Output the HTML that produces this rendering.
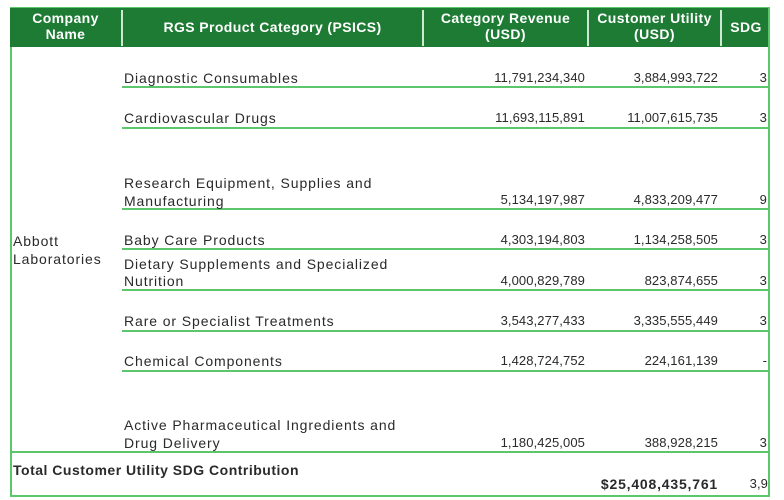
<!DOCTYPE html>
<html><head><meta charset="utf-8"><style>
body{margin:0;width:784px;height:500px;background:#fff;position:relative;overflow:hidden;font-family:"Liberation Sans",sans-serif;color:#2a2a2a;}
.a{position:absolute;white-space:nowrap;font-size:14px;line-height:18px;letter-spacing:0.9px;}
.r{text-align:right;font-size:13px;letter-spacing:0.1px;}
.h{position:absolute;color:#fff;font-weight:bold;font-size:14px;line-height:16px;text-align:center;letter-spacing:0.4px;}
.ln{position:absolute;height:2px;background:#5cc66c;}
.vd{position:absolute;width:2px;background:#cfe8d2;top:10px;height:36px;}
</style></head><body>
<div style="position:absolute;left:10px;top:7px;width:760px;height:40px;background:#1e7b34;"></div>
<div class="vd" style="left:121px"></div>
<div class="vd" style="left:422px"></div>
<div class="vd" style="left:587px"></div>
<div class="vd" style="left:720px"></div>
<div class="h" style="left:10px;width:111px;top:10px">Company<br>Name</div>
<div class="h" style="left:123px;width:299px;top:19px">RGS Product Category (PSICS)</div>
<div class="h" style="left:424px;width:163px;top:10px">Category Revenue<br>(USD)</div>
<div class="h" style="left:589px;width:131px;top:10px">Customer Utility<br>(USD)</div>
<div class="h" style="left:722px;width:48px;top:19px">SDG</div>
<div style="position:absolute;left:10px;top:47px;width:2px;height:450px;background:#5cc66c"></div>
<div style="position:absolute;left:768px;top:7px;width:2px;height:490px;background:#5cc66c"></div>
<div class="ln" style="left:10px;top:7px;width:760px;height:1px"></div>
<div class="ln" style="left:122px;top:86px;width:648px"></div>
<div class="ln" style="left:122px;top:127px;width:648px"></div>
<div class="ln" style="left:122px;top:208px;width:648px"></div>
<div class="ln" style="left:122px;top:248px;width:648px"></div>
<div class="ln" style="left:122px;top:289px;width:648px"></div>
<div class="ln" style="left:122px;top:330px;width:648px"></div>
<div class="ln" style="left:122px;top:370px;width:648px"></div>
<div class="ln" style="left:10px;top:451px;width:760px"></div>
<div class="ln" style="left:10px;top:495px;width:760px"></div>

<div class="a" style="left:13px;top:232px">Abbott</div>
<div class="a" style="left:13px;top:250px">Laboratories</div>

<div class="a" style="left:124px;top:69px">Diagnostic Consumables</div>
<div class="a" style="left:124px;top:109px">Cardiovascular Drugs</div>
<div class="a" style="left:124px;top:174px">Research Equipment, Supplies and</div>
<div class="a" style="left:124px;top:192px">Manufacturing</div>
<div class="a" style="left:124px;top:231px">Baby Care Products</div>
<div class="a" style="left:124px;top:255px">Dietary Supplements and Specialized</div>
<div class="a" style="left:124px;top:272px">Nutrition</div>
<div class="a" style="left:124px;top:312px">Rare or Specialist Treatments</div>
<div class="a" style="left:124px;top:352px">Chemical Components</div>
<div class="a" style="left:124px;top:416px">Active Pharmaceutical Ingredients and</div>
<div class="a" style="left:124px;top:434px">Drug Delivery</div>

<div class="a r" style="right:199px;top:69px">11,791,234,340</div>
<div class="a r" style="right:199px;top:109px">11,693,115,891</div>
<div class="a r" style="right:199px;top:191px">5,134,197,987</div>
<div class="a r" style="right:199px;top:231px">4,303,194,803</div>
<div class="a r" style="right:199px;top:272px">4,000,829,789</div>
<div class="a r" style="right:199px;top:312px">3,543,277,433</div>
<div class="a r" style="right:199px;top:352px">1,428,724,752</div>
<div class="a r" style="right:199px;top:434px">1,180,425,005</div>

<div class="a r" style="right:66px;top:69px">3,884,993,722</div>
<div class="a r" style="right:66px;top:109px">11,007,615,735</div>
<div class="a r" style="right:66px;top:191px">4,833,209,477</div>
<div class="a r" style="right:66px;top:231px">1,134,258,505</div>
<div class="a r" style="right:66px;top:272px">823,874,655</div>
<div class="a r" style="right:66px;top:312px">3,335,555,449</div>
<div class="a r" style="right:66px;top:352px">224,161,139</div>
<div class="a r" style="right:66px;top:434px">388,928,215</div>

<div class="a r" style="right:17px;top:69px">3</div>
<div class="a r" style="right:17px;top:109px">3</div>
<div class="a r" style="right:17px;top:191px">9</div>
<div class="a r" style="right:17px;top:231px">3</div>
<div class="a r" style="right:17px;top:272px">3</div>
<div class="a r" style="right:17px;top:312px">3</div>
<div class="a r" style="right:17px;top:352px">-</div>
<div class="a r" style="right:17px;top:434px">3</div>

<div class="a" style="left:13px;top:461px;font-weight:bold;letter-spacing:0.5px">Total Customer Utility SDG Contribution</div>
<div class="a" style="right:66px;top:475px;font-weight:bold;letter-spacing:0.8px;text-align:right">$25,408,435,761</div>
<div class="a r" style="right:16px;top:475px">3,9</div>
</body></html>
